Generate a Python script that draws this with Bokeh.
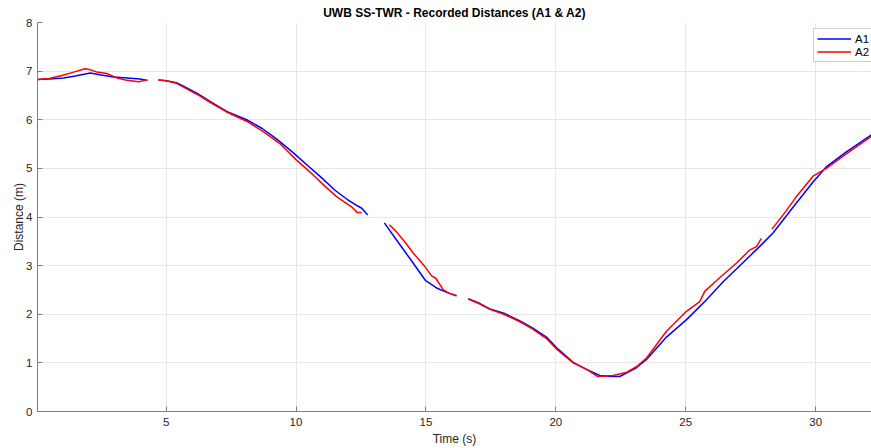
import numpy as np
from bokeh.plotting import figure
from bokeh.models import Range1d, FixedTicker, ColumnDataSource
from bokeh.embed import file_html
from bokeh.resources import INLINE

nan = np.nan

t_a1 = [0.05, 0.5, 1.05, 1.5, 2.08, 2.5, 2.97, 3.5, 4.0, 4.28, nan,
        4.7, 5.0, 5.4, 5.67, 6.2, 6.69, 7.33, 8.1, 8.7, 9.26, 9.9, 10.47, 11.0,
        11.5, 11.95, 12.3, 12.53, 12.76, nan,
        13.4, 14.0, 14.5, 14.99, 15.41, 15.8, 16.18, nan,
        16.63, 17.08, 17.46, 18.0, 18.6, 19.1, 19.64, 20.03, 20.67, 21.2, 21.69,
        22.1, 22.46, 22.72, 23.1, 23.49, 24.26, 25.03, 25.8, 26.44, 27.2, 27.8,
        28.36, 29.1, 29.9, 30.41, 31.18, 32.2]
d_a1 = [6.83, 6.84, 6.86, 6.90, 6.96, 6.92, 6.88, 6.86, 6.84, 6.81, nan,
        6.82, 6.80, 6.76, 6.69, 6.54, 6.38, 6.17, 6.00, 5.82, 5.60, 5.32, 5.05, 4.80,
        4.55, 4.37, 4.25, 4.18, 4.04, nan,
        3.88, 3.43, 3.06, 2.69, 2.54, 2.45, 2.38, nan,
        2.32, 2.22, 2.11, 2.02, 1.87, 1.72, 1.53, 1.31, 1.01, 0.86, 0.74,
        0.72, 0.72, 0.79, 0.90, 1.07, 1.53, 1.89, 2.30, 2.67, 3.06, 3.37,
        3.67, 4.18, 4.72, 5.03, 5.34, 5.71]

t_a2 = [0.05, 0.5, 0.99, 1.44, 1.88, 2.08, 2.33, 2.72, 3.1, 3.49, 3.94, 4.28, nan,
        4.7, 5.0, 5.4, 5.67, 6.2, 6.69, 7.33, 8.1, 8.7, 9.38, 10.0, 10.67, 11.1,
        11.56, 12.14, 12.36, 12.53, nan,
        13.59, 13.81, 14.2, 14.51, 14.96, 15.22, 15.38, 15.67, 15.9, 16.18, nan,
        16.63, 17.08, 17.46, 18.0, 18.6, 19.1, 19.64, 20.03, 20.67, 21.2, 21.6,
        22.2, 22.7, 23.1, 23.49, 24.26, 25.03, 25.54, 25.73, 26.2, 26.69, 26.95,
        27.46, 27.72, 27.91, nan,
        28.32, 28.8, 29.26, 29.9, 30.41, 31.18, 32.2]
d_a2 = [6.83, 6.85, 6.91, 6.98, 7.05, 7.03, 6.98, 6.95, 6.86, 6.81, 6.78, 6.82, nan,
        6.82, 6.80, 6.75, 6.67, 6.52, 6.36, 6.16, 5.97, 5.77, 5.51, 5.18, 4.86, 4.64,
        4.42, 4.21, 4.09, 4.09, nan,
        3.84, 3.73, 3.48, 3.26, 2.98, 2.79, 2.74, 2.50, 2.43, 2.38, nan,
        2.31, 2.21, 2.10, 2.00, 1.85, 1.70, 1.50, 1.28, 1.00, 0.86, 0.72,
        0.74, 0.80, 0.92, 1.10, 1.65, 2.06, 2.26, 2.47, 2.70, 2.93, 3.05,
        3.32, 3.39, 3.56, nan,
        3.75, 4.08, 4.42, 4.84, 5.00, 5.30, 5.68]

x_ticks = [5, 10, 15, 20, 25, 30]
y_ticks = [0, 1, 2, 3, 4, 5, 6, 7, 8]

FONT = "Liberation Sans"
GRID = "#e6e6e6"
AXIS = "#7f7f7f"
TXT = "#262626"

p = figure(width=871, height=448, output_backend="svg", toolbar_location=None,
           x_range=Range1d(0.05, 32.15), y_range=Range1d(0, 8),
           title="UWB SS-TWR - Recorded Distances (A1 & A2)",
           min_border_left=37, min_border_right=0, min_border_bottom=36, min_border_top=0)

p.title.text_font = FONT
p.title.text_font_size = "12px"
p.title.text_font_style = "bold"
p.title.text_color = "#000000"
p.title.align = "center"
p.title.offset = 0
p.title.standoff = 6

p.outline_line_color = None
p.background_fill_color = "white"
p.border_fill_color = "white"

for ax in (p.xaxis[0], p.yaxis[0]):
    ax.axis_line_color = AXIS
    ax.axis_line_width = 1
    ax.major_tick_line_color = AXIS
    ax.major_tick_in = 5
    ax.major_tick_out = 0
    ax.minor_tick_line_color = None
    ax.major_label_text_font = FONT
    ax.major_label_text_font_size = "11.5px"
    ax.major_label_text_color = TXT
    ax.axis_label_text_font = FONT
    ax.axis_label_text_font_size = "12px"
    ax.axis_label_text_font_style = "normal"
    ax.axis_label_text_color = TXT

p.xaxis.ticker = FixedTicker(ticks=x_ticks)
p.yaxis.ticker = FixedTicker(ticks=y_ticks)
p.xaxis.axis_label = "Time (s)"
p.yaxis.axis_label = "Distance (m)"
p.xaxis.major_label_standoff = 6
p.yaxis.major_label_standoff = 5
p.xaxis.axis_label_standoff = 3
p.yaxis.axis_label_standoff = -3

p.xgrid.grid_line_color = GRID
p.ygrid.grid_line_color = GRID
p.xgrid.ticker = FixedTicker(ticks=x_ticks)
p.ygrid.ticker = FixedTicker(ticks=y_ticks)

src1 = ColumnDataSource(dict(t=t_a1, d=d_a1))
src2 = ColumnDataSource(dict(t=t_a2, d=d_a2))
p.line("t", "d", source=src1, color="#0000ff", line_width=1.5, legend_label="A1")
p.line("t", "d", source=src2, color="#ff0000", line_width=1.5, legend_label="A2")

lg = p.legend[0]
lg.location = (776, 349)
lg.margin = 0
lg.padding = 3
lg.spacing = 0
lg.glyph_width = 34
lg.glyph_height = 13
lg.label_standoff = 4
lg.label_text_font = FONT
lg.label_text_font_size = "11.5px"
lg.label_text_color = "#000000"
lg.label_height = 13
lg.border_line_color = "#a0a0a0"
lg.border_line_width = 1
lg.background_fill_color = "white"
lg.background_fill_alpha = 1

open("out.html", "w").write(file_html(p, INLINE))
